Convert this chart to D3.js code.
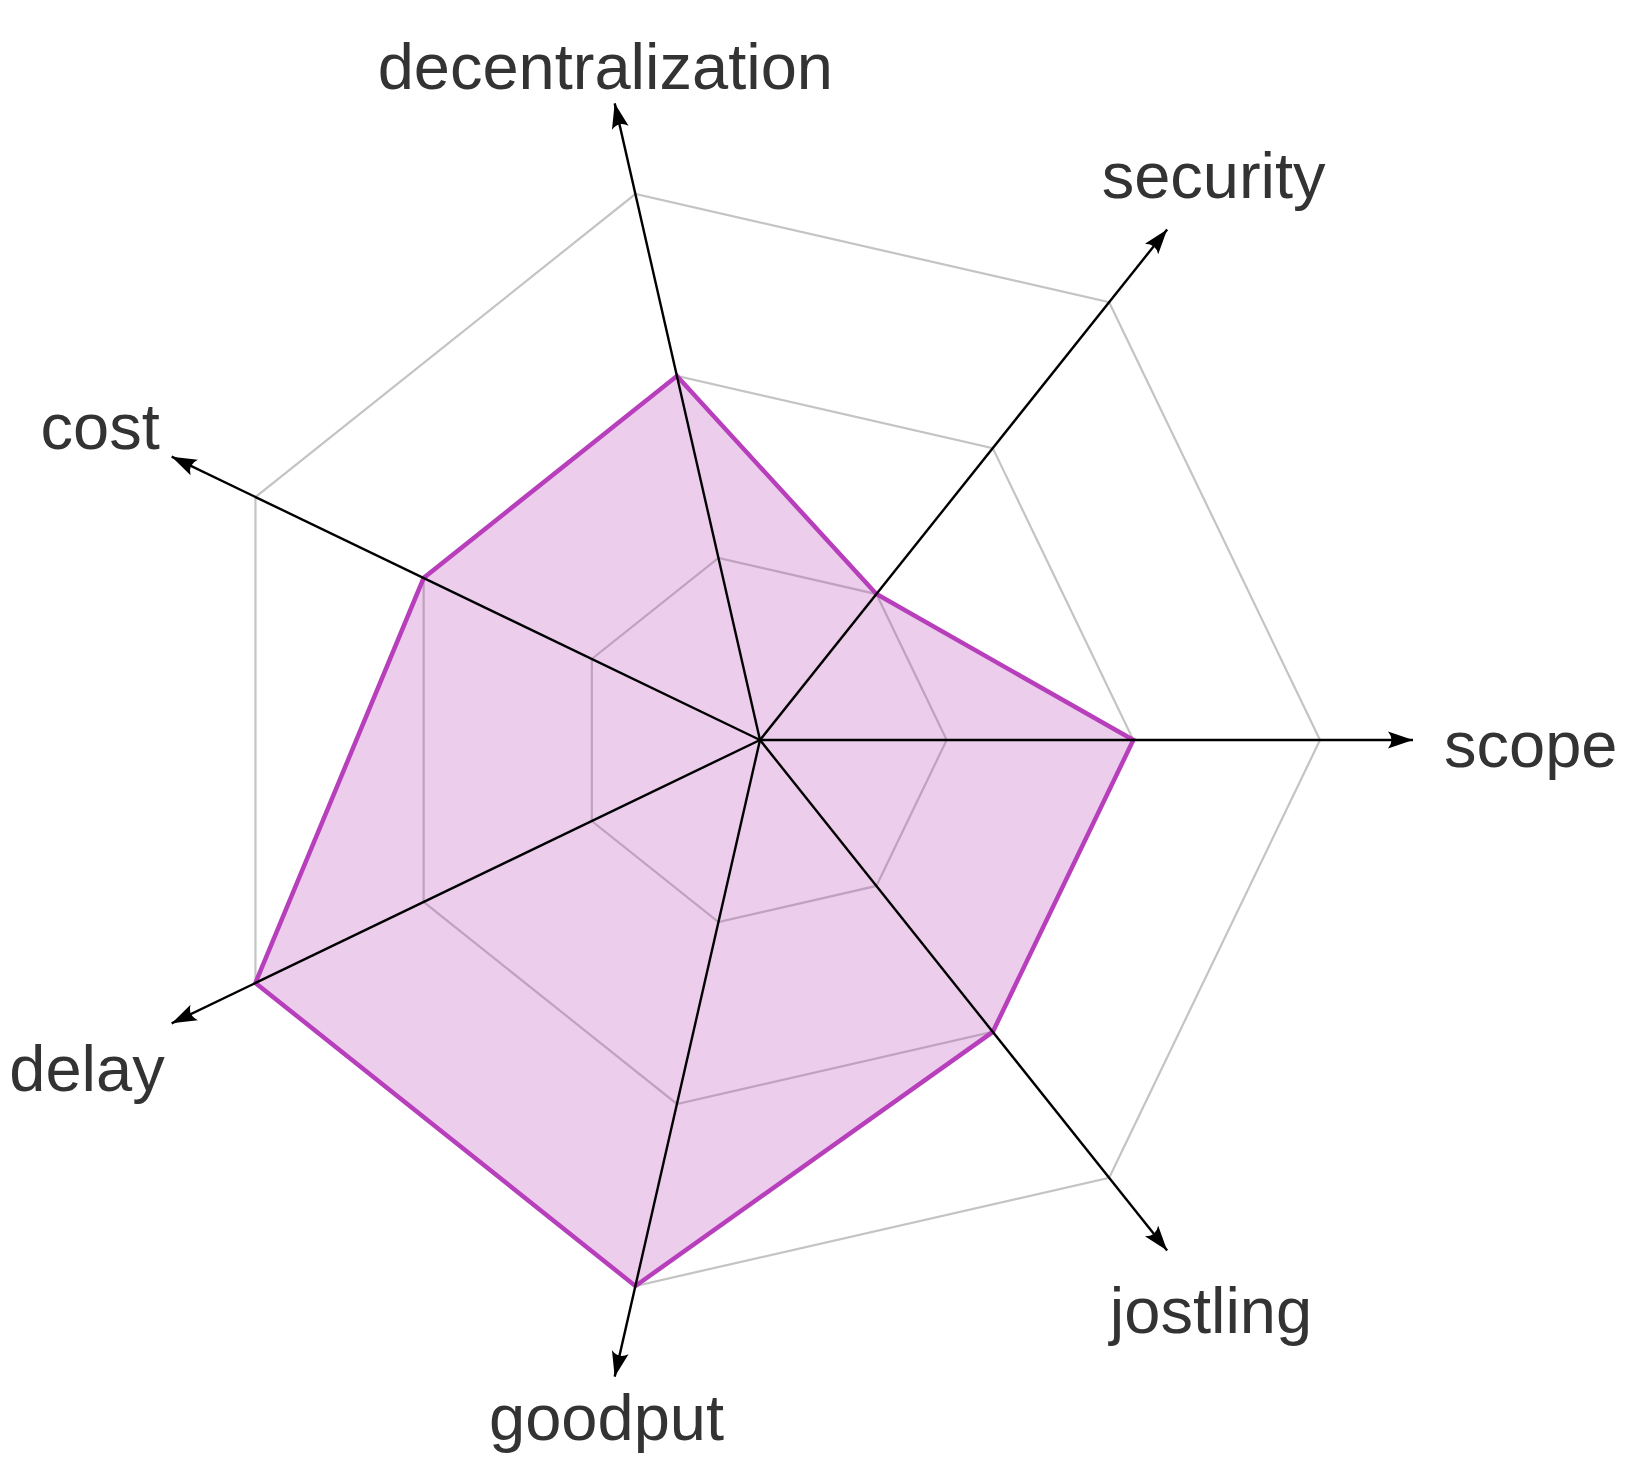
<!DOCTYPE html>
<html>
<head>
<meta charset="utf-8">
<script src="https://cdn.jsdelivr.net/npm/d3@7"></script>
<style>
  html, body { margin: 0; padding: 0; background: #fff; }
  svg { display: block; }
</style>
</head>
<body>
<svg id="chart" width="1640" height="1466"></svg>
<script>
// ---- data ----
const categories = ["scope", "security", "decentralization", "cost", "delay", "goodput", "jostling"];
const values = [2, 1, 2, 2, 3, 3, 2];
const levels = [1, 2, 3];
const maxValue = 3;

// ---- layout ----
const W = 1640, H = 1466;
const cx = 760, cy = 740;
const outerR = 560;
const tipR = 653;
const labelR = 684;
const fontSize = 65;
const capHalf = 27;

const svg = d3.select("#chart");
const r = d3.scaleLinear().domain([0, maxValue]).range([0, outerR]);
const angle = d3.scaleLinear().domain([0, categories.length]).range([0, -2 * Math.PI]);

const g = svg.append("g").attr("transform", `translate(${cx},${cy})`);

const pt = (i, rad) => [rad * Math.cos(angle(i)), rad * Math.sin(angle(i))];

// arrow marker
svg.append("defs").append("marker")
  .attr("id", "arrow")
  .attr("markerUnits", "userSpaceOnUse")
  .attr("viewBox", "-26 -10 28 20")
  .attr("refX", 0).attr("refY", 0)
  .attr("markerWidth", 28).attr("markerHeight", 20)
  .attr("orient", "auto")
  .append("path")
  .attr("d", "M0,0 L-25,-8.5 Q-18,0 -25,8.5 Z")
  .attr("fill", "#000");

// grid rings
const ringLine = d3.line().curve(d3.curveLinearClosed);
g.selectAll("path.ring").data(levels).join("path")
  .attr("class", "ring")
  .attr("d", lv => ringLine(categories.map((c, i) => pt(i, r(lv)))))
  .attr("fill", "none")
  .attr("stroke", "#c4c4c4")
  .attr("stroke-width", 2.2);

// data polygon
g.append("path")
  .attr("d", ringLine(values.map((v, i) => pt(i, r(v)))))
  .attr("fill", "#b43cb4")
  .attr("fill-opacity", 0.26)
  .attr("stroke", "#b83fbb")
  .attr("stroke-width", 4.5)
  .attr("stroke-linejoin", "miter");

// axes
g.selectAll("line.axis").data(categories).join("line")
  .attr("class", "axis")
  .attr("x1", 0).attr("y1", 0)
  .attr("x2", (c, i) => pt(i, tipR)[0])
  .attr("y2", (c, i) => pt(i, tipR)[1])
  .attr("stroke", "#000")
  .attr("stroke-width", 2.4)
  .attr("marker-end", "url(#arrow)");

// labels
g.selectAll("text.label").data(categories).join("text")
  .attr("class", "label")
  .attr("font-family", "'Liberation Sans', Arial, Helvetica, sans-serif")
  .attr("font-size", fontSize)
  .attr("fill", "#333")
  .attr("text-anchor", "middle")
  .text(d => d)
  .each(function (c, i) {
    const w = this.getComputedTextLength();
    const a = angle(i);
    const co = Math.cos(a), si = Math.sin(a);
    const d = labelR + (w / 2) * co * co;
    d3.select(this).attr("x", d * co).attr("y", d * si + capHalf);
  });
</script>
</body>
</html>
